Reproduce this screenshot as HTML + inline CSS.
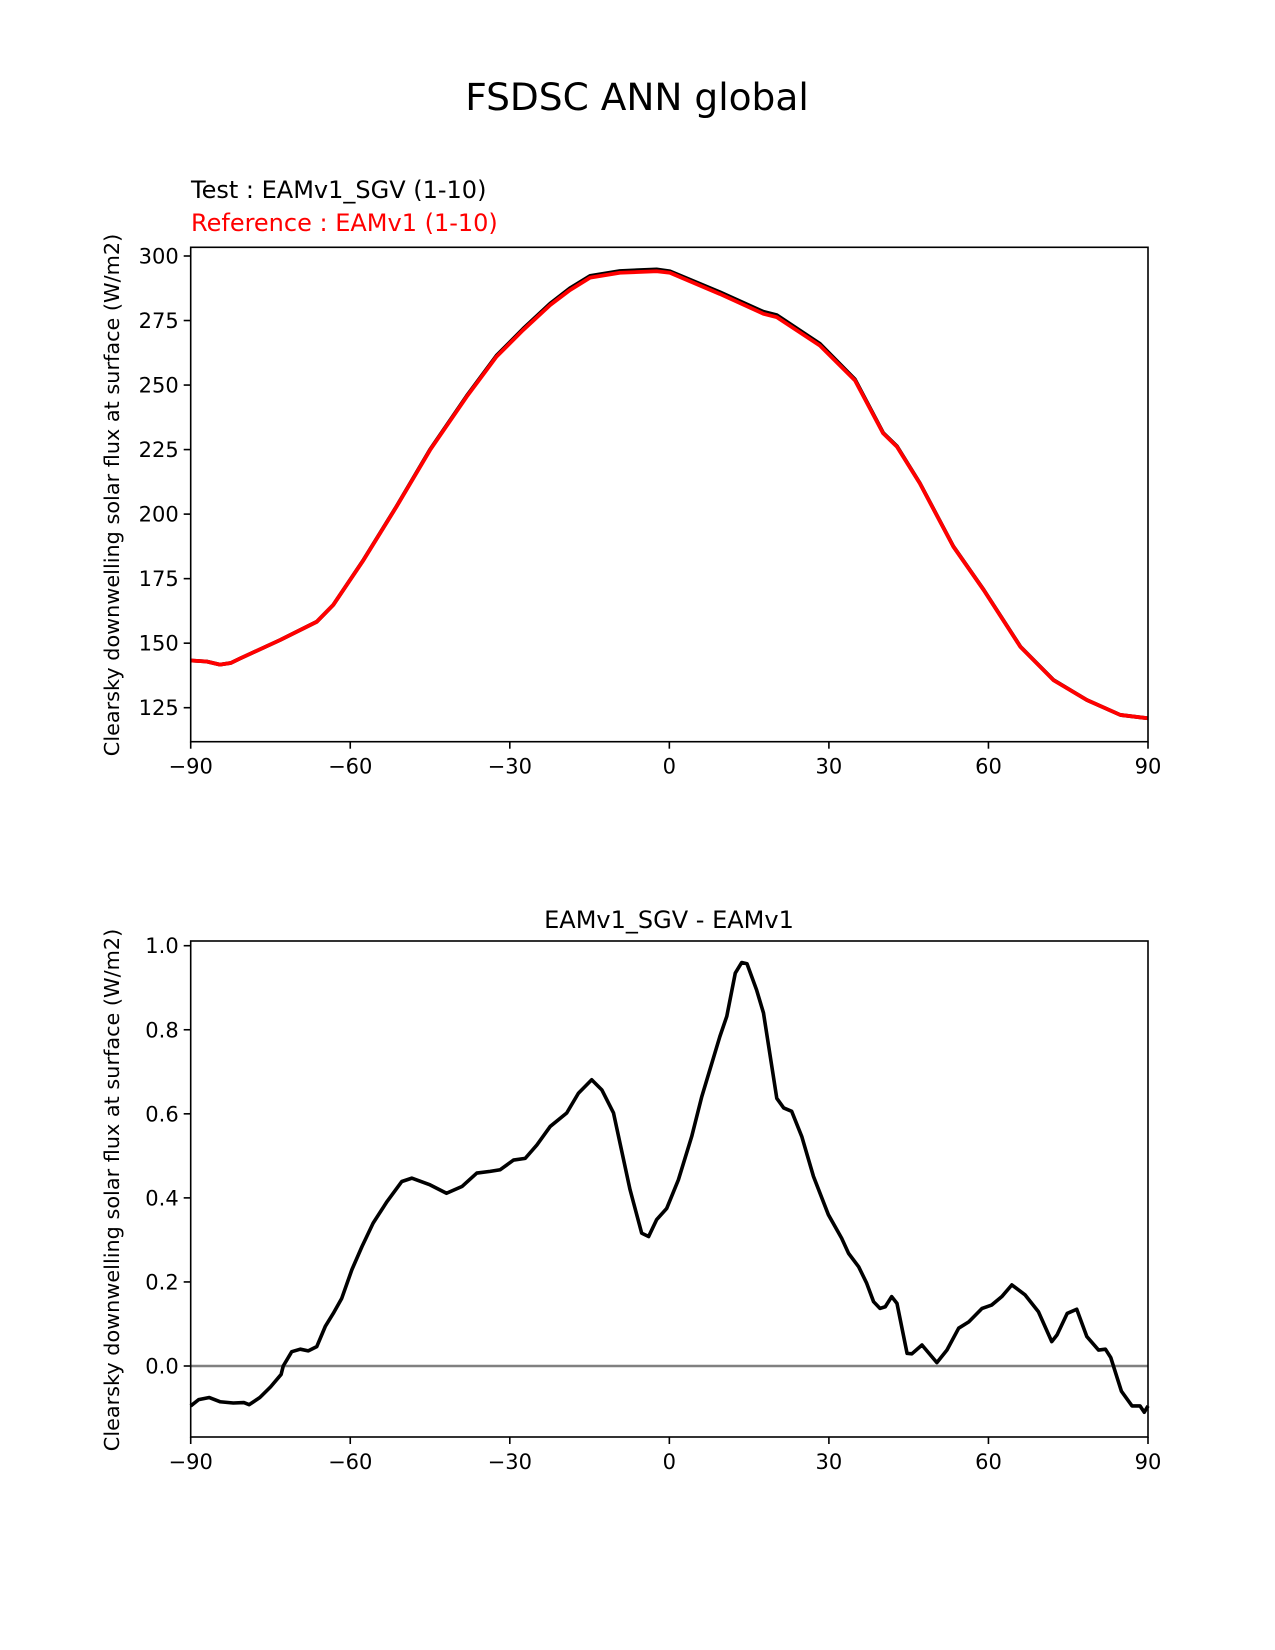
<!DOCTYPE html>
<html><head><meta charset="utf-8"><style>
body{margin:0;background:#fff}
svg{display:block;font-family:"DejaVu Sans","Liberation Sans",sans-serif}
</style></head><body>
<svg id="fig" width="1275" height="1650" viewBox="0 0 1275 1650">
<text x="637" y="110" font-size="37.5" text-anchor="middle">FSDSC ANN global</text>
<text x="191" y="198" font-size="24">Test : EAMv1_SGV (1-10)</text>
<text x="191" y="231" font-size="24" fill="#ff0000">Reference : EAMv1 (1-10)</text>
<text x="669" y="928" font-size="24" text-anchor="middle">EAMv1_SGV - EAMv1</text>
<g id="top"></g>
<g id="bot"></g>
</svg>
<script>
const lats=[-90,-87,-84.5,-82.5,-80.7,-73.2,-66.3,-63.2,-57.5,-51.3,-45,-38.1,-32.5,-27.5,-22.4,-18.7,-14.9,-9.3,-2.4,0.1,9.5,17.7,20.2,28.3,34.9,40.2,42.8,47.1,53.4,59.1,66,72.2,78.5,84.8,90];
const refSeries=[143.3,142.9,141.7,142.3,144.1,151.2,158.3,164.8,182.2,202.9,224.8,245.5,261,271.3,281,286.8,291.6,293.5,294.1,293.5,285.3,277.6,276.3,265.3,251.8,231.3,226.1,211.9,187.4,170.6,148.6,135.7,128,122.2,120.9];
const testSeries=[143.3,142.9,141.7,142.3,144.1,151.2,158.3,164.8,182.3,203,225,245.8,261.4,271.8,281.6,287.5,292.3,294.2,294.8,294.1,286,278.4,277.1,266,252.2,231.5,226.3,212,187.5,170.7,148.7,135.8,128,122.2,120.9];
const diffLats=[-90,-88.5,-86.5,-84.5,-82,-80,-79,-77,-75,-73,-72.6,-71,-69.4,-67.9,-66.3,-64.7,-63.2,-61.6,-59.7,-57.8,-55.7,-53.1,-50.3,-48.4,-45,-41.9,-39,-36.2,-33.7,-31.8,-29.3,-27.1,-24.9,-22.4,-19.3,-17.1,-14.6,-12.7,-10.5,-7.4,-5.2,-3.9,-2.4,-0.5,1.7,4.2,6.1,8,9.5,10.8,12.4,13.6,14.6,16.4,17.7,20.2,21.5,23,24.9,27.1,29.9,32.4,33.7,35.6,37.1,38.4,39.6,40.6,41.8,42.8,44.7,45.6,47.5,50.3,52.2,54.4,56.3,58.8,60.6,62.5,64.4,66.9,69.4,71.9,72.9,74.8,76.6,78.5,80.7,82,83,84,85,87,88.5,89.3,90];
const diffVals=[-0.095,-0.08,-0.075,-0.085,-0.088,-0.087,-0.092,-0.075,-0.05,-0.02,0,0.034,0.04,0.036,0.046,0.094,0.125,0.161,0.229,0.284,0.34,0.391,0.439,0.447,0.431,0.411,0.427,0.459,0.463,0.467,0.49,0.494,0.526,0.57,0.602,0.649,0.681,0.657,0.602,0.42,0.316,0.308,0.348,0.375,0.443,0.546,0.641,0.721,0.784,0.832,0.935,0.96,0.957,0.895,0.84,0.637,0.614,0.606,0.546,0.451,0.36,0.304,0.268,0.236,0.197,0.153,0.137,0.141,0.165,0.149,0.03,0.029,0.05,0.008,0.038,0.09,0.105,0.137,0.145,0.165,0.193,0.169,0.129,0.058,0.074,0.125,0.135,0.07,0.038,0.04,0.02,-0.02,-0.06,-0.095,-0.095,-0.11,-0.095];
const xTicks=[-90,-60,-30,0,30,60,90];
const xTickLabels=["\u221290","\u221260","\u221230","0","30","60","90"];
const topYTicks=[125,150,175,200,225,250,275,300];
const botYTicks=[0,0.2,0.4,0.6,0.8,1.0];
const botYTickLabels=["0.0","0.2","0.4","0.6","0.8","1.0"];
</script>
<script>
const NS='http://www.w3.org/2000/svg';
function mk(tag,attrs,parent){const e=document.createElementNS(NS,tag);for(const k in attrs)e.setAttribute(k,attrs[k]);parent.appendChild(e);return e;}
const L=190.7,R=1148;
const xs=v=>L+(v+90)/180*(R-L);
function axes(g,top,bottom,yTicks,yLabels,yScale,ylabelY){
  const xt=mk('g',{},g);
  
  
  xTicks.forEach((t,i)=>{
    const l=mk('line',{x1:xs(t),x2:xs(t),y1:bottom,y2:bottom+7,stroke:'#000','stroke-width':1.6},xt);
    
    
    const tx=mk('text',{x:xs(t),y:bottom+32,'font-size':21,'text-anchor':'middle'},xt);
    
    
    tx.textContent=xTickLabels[i];
  });
  const yt=mk('g',{},g);
  
  
  yTicks.forEach((t,i)=>{
    const l=mk('line',{x1:L-7,x2:L,y1:yScale(t),y2:yScale(t),stroke:'#000','stroke-width':1.6},yt);
    
    
    const tx=mk('text',{x:L-12,y:yScale(t)+7.5,'font-size':21,'text-anchor':'end'},yt);
    
    
    tx.textContent=yLabels[i];
  });
  const yl=mk('text',{x:0,y:0,'font-size':20.8,'text-anchor':'middle',transform:`translate(119,${ylabelY}) rotate(-90)`},g);
  
  
  yl.textContent='Clearsky downwelling solar flux at surface (W/m2)';
}
function path(xa,ya,ys){return xa.map((x,i)=>(i?'L':'M')+xs(x).toFixed(2)+','+ys(ya[i]).toFixed(2)).join(' ');}
const gt=document.getElementById('top');
const tT=247.3,tB=741.7;
const yT=v=>256+(300-v)/175*(707.7-256);
axes(gt,tT,tB,topYTicks,topYTicks.map(String),yT,495);
const pb=mk('path',{d:path(lats,testSeries,yT),fill:'none',stroke:'#000','stroke-width':3.8,'stroke-linejoin':'round'},gt);


const pr=mk('path',{d:path(lats,refSeries,yT),fill:'none',stroke:'#ff0000','stroke-width':3.8,'stroke-linejoin':'round'},gt);


const fr1=mk('rect',{x:L,y:tT,width:R-L,height:tB-tT,fill:'none',stroke:'#000','stroke-width':1.6},gt);


const gb=document.getElementById('bot');
const bT=941,bB=1437;
const yB=v=>1366-v*(1366-945.7);
axes(gb,bT,bB,botYTicks,botYTickLabels,yB,1190);
const zl=mk('line',{x1:L,x2:R,y1:yB(0),y2:yB(0),stroke:'#808080','stroke-width':2.4},gb);


const pd=mk('path',{d:path(diffLats,diffVals,yB),fill:'none',stroke:'#000','stroke-width':3.6,'stroke-linejoin':'round'},gb);


const fr2=mk('rect',{x:L,y:bT,width:R-L,height:bB-bT,fill:'none',stroke:'#000','stroke-width':1.6},gb);


</script>
</body></html>
